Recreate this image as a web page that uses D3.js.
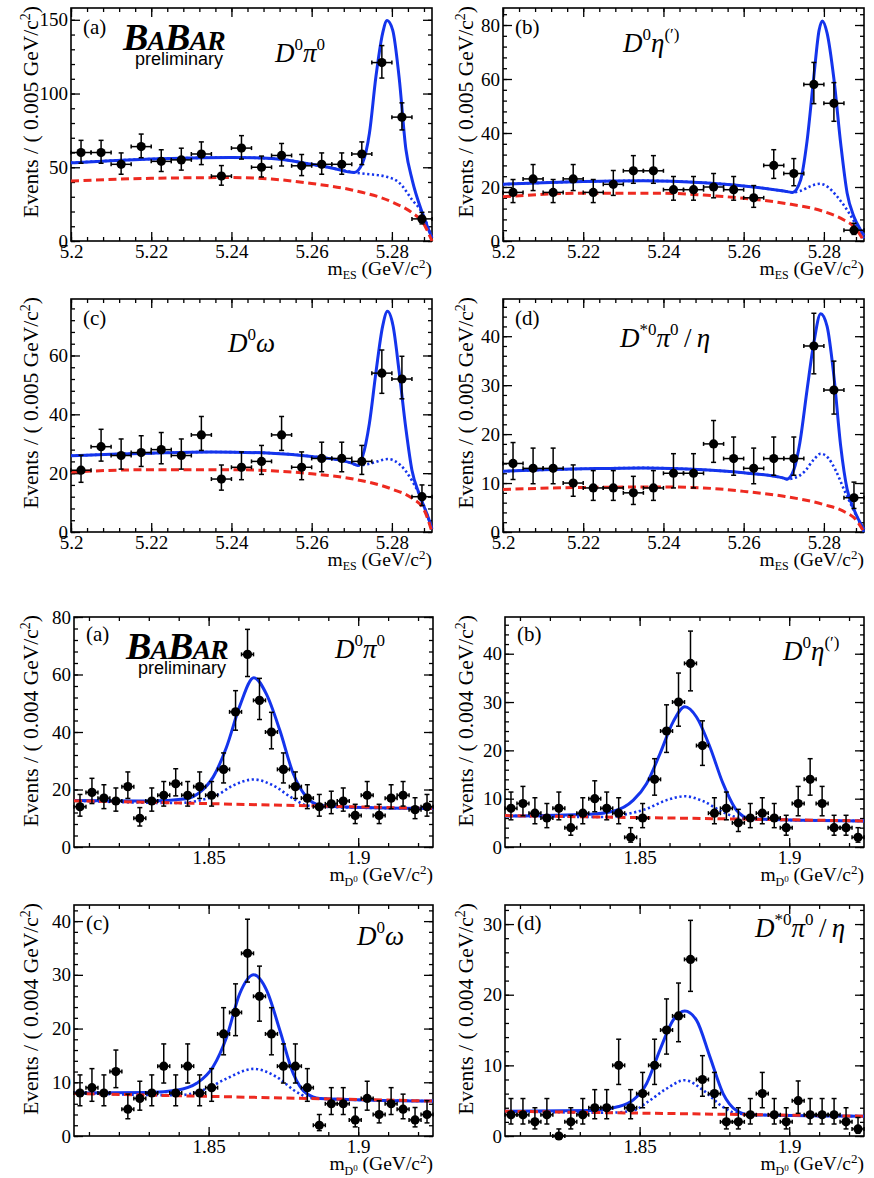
<!DOCTYPE html>
<html>
<head>
<meta charset="utf-8">
<script src="https://cdn.jsdelivr.net/npm/d3@7"></script>
<style>
	body { margin: 0; background: #fff; }
	svg text { font-family: "Liberation Serif", "Times New Roman", serif; fill: #000; }
</style>
</head>
<body>
<svg width="874" height="1178"></svg>
<script>
// bin centres
const mesBins = [5.2025, 5.2075, 5.2125, 5.2175, 5.2225, 5.2275, 5.2325, 5.2375, 5.2425, 5.2475, 5.2525, 5.2575, 5.2625, 5.2675, 5.2725, 5.2775, 5.2825, 5.2875];
const mdBins = [1.807, 1.811, 1.815, 1.819, 1.823, 1.827, 1.831, 1.835, 1.839, 1.843, 1.847, 1.851, 1.855, 1.859, 1.863, 1.867, 1.871, 1.875, 1.879, 1.883, 1.887, 1.891, 1.895, 1.899, 1.903, 1.907, 1.911, 1.915, 1.919, 1.923];

// events per bin
const mesA = [60, 60, 52, 64, 54, 55, 59, 44, 63, 50, 58, 51, 52, 52, 59, 121, 84, 15];
const mesB = [18, 23, 18, 23, 18, 21, 26, 26, 19, 19, 20, 19, 16, 28, 25, 58, 51, 4];
const mesC = [21, 29, 26, 27, 28, 26, 33, 18, 22, 24, 33, 22, 25, 25, 24, 54, 52, 12];
const mesD = [14, 13, 13, 10, 9, 9, 8, 9, 12, 12, 18, 15, 13, 15, 15, 38, 29, 7];
const mdA = [14, 19, 17, 16, 21, 10, 16, 18, 22, 18, 21, 18, 27, 47, 67, 51, 40, 27, 21, 17, 14, 15, 16, 11, 18, 11, 17, 18, 13, 14];
const mdB = [8, 9, 7, 6, 8, 4, 7, 10, 8, 7, 2, 6, 14, 24, 30, 38, 21, 7, 8, 5, 6, 7, 6, 4, 9, 14, 9, 4, 4, 2];
const mdC = [8, 9, 8, 12, 5, 7, 8, 13, 8, 13, 8, 9, 19, 23, 34, 26, 19, 13, 13, 9, 2, 6, 6, 3, 7, 4, 6, 5, 3, 4];
const mdD = [3, 3, 2, 3, 0, 2, 3, 4, 4, 10, 4, 6, 10, 15, 17, 25, 8, 6, 2, 2, 3, 6, 3, 2, 5, 3, 3, 3, 2, 1];

// fit curves: [x, events]
const mesTotalA = [[5.2, 53], [5.21, 54.5], [5.22, 55.6], [5.23, 56.3], [5.24, 56.6], [5.25, 56], [5.26, 52], [5.265, 49.5], [5.2706, 46.5], [5.2727, 53], [5.2744, 73], [5.276, 111], [5.2777, 141], [5.2788, 149.5], [5.2802, 143], [5.2818, 111], [5.2835, 62], [5.2851, 41], [5.2876, 19], [5.29, 2]];
const mesPeakA = [[5.2, 53], [5.21, 54.5], [5.22, 55.6], [5.23, 56.3], [5.24, 56.6], [5.25, 56], [5.26, 52], [5.265, 49.5], [5.2706, 46.5], [5.2735, 45.5], [5.2785, 43.7], [5.2818, 39.6], [5.2851, 27.8], [5.2876, 18.8], [5.29, 2]];
const mesCombA = [[5.2, 40.7], [5.22, 42.5], [5.24, 43], [5.25, 42], [5.26, 39], [5.27, 34.6], [5.28, 26.5], [5.2851, 19], [5.2876, 13], [5.29, 0]];

const mesTotalB = [[5.2, 21], [5.21, 21.6], [5.22, 22], [5.235, 22.3], [5.25, 21.6], [5.26, 20.4], [5.27, 18.5], [5.2722, 18], [5.2742, 22.6], [5.2758, 37], [5.2775, 61], [5.2788, 78], [5.2796, 81.5], [5.2808, 77], [5.2825, 60], [5.2842, 36], [5.2858, 17.7], [5.2875, 9], [5.2892, 4], [5.29, 2]];
const mesPeakB = [[5.2, 21], [5.21, 21.6], [5.22, 22], [5.235, 22.3], [5.25, 21.6], [5.26, 20.4], [5.27, 18.5], [5.2722, 18], [5.274, 18.5], [5.277, 20.5], [5.279, 21.2], [5.281, 20], [5.283, 17], [5.286, 11], [5.288, 6], [5.29, 1]];
const mesCombB = [[5.2, 16.4], [5.22, 17.7], [5.24, 17.7], [5.25, 17], [5.26, 15.8], [5.27, 14], [5.28, 10.9], [5.285, 7.8], [5.2875, 5.3], [5.29, 0]];

const mesTotalC = [[5.2, 25.9], [5.21, 26.4], [5.22, 26.8], [5.235, 27.2], [5.25, 26.8], [5.26, 25.7], [5.27, 23.4], [5.2715, 22.6], [5.2727, 25.7], [5.2744, 37], [5.276, 54], [5.2777, 70], [5.2789, 75], [5.2803, 70], [5.2818, 54.6], [5.2835, 35], [5.285, 21], [5.2868, 13], [5.2893, 4], [5.29, 1]];
const mesPeakC = [[5.2, 25.9], [5.21, 26.4], [5.22, 26.8], [5.235, 27.2], [5.25, 26.8], [5.26, 25.7], [5.27, 23.4], [5.2715, 22.6], [5.275, 23.4], [5.279, 24.8], [5.282, 22.9], [5.285, 17.5], [5.2868, 12.8], [5.289, 5], [5.29, 0.5]];
const mesCombC = [[5.2, 20.4], [5.22, 21.2], [5.24, 21.2], [5.25, 20.8], [5.26, 19.8], [5.27, 18.1], [5.28, 14.6], [5.285, 11.5], [5.288, 7.6], [5.29, 0]];

const mesTotalD = [[5.2, 12.4], [5.21, 12.7], [5.22, 12.9], [5.235, 13.1], [5.25, 12.7], [5.26, 12.1], [5.27, 11], [5.2708, 10.8], [5.2725, 12.7], [5.274, 18.2], [5.2758, 29], [5.2775, 38.7], [5.2792, 44.6], [5.2808, 42], [5.2825, 31.8], [5.2842, 17.5], [5.2858, 8.7], [5.2875, 4.6], [5.29, 0.5]];
const mesPeakD = [[5.2, 12.4], [5.21, 12.7], [5.22, 12.9], [5.235, 13.1], [5.25, 12.7], [5.26, 12.1], [5.27, 11], [5.2708, 10.8], [5.2725, 11], [5.275, 12.2], [5.2775, 14.8], [5.2792, 16], [5.281, 15.2], [5.283, 12.5], [5.285, 8.7], [5.287, 5.2], [5.29, 0]];
const mesCombD = [[5.2, 8.7], [5.22, 9.1], [5.24, 9.2], [5.25, 9], [5.26, 8.3], [5.27, 7.3], [5.28, 5.6], [5.285, 4.2], [5.288, 2.5], [5.29, 0]];

const mdTotalA = [[1.805, 16.2], [1.83, 16], [1.8426, 16.8], [1.8471, 19.1], [1.8515, 24.3], [1.856, 34.8], [1.8604, 49], [1.8651, 58.9], [1.8694, 53], [1.8738, 40.6], [1.8783, 25.5], [1.8827, 17.4], [1.8872, 14.5], [1.8916, 14.1], [1.925, 13.4]];
const mdPeakA = [[1.805, 16.1], [1.84, 15.3], [1.847, 16.2], [1.8527, 18], [1.8582, 21.4], [1.8651, 23.5], [1.8716, 21.4], [1.8783, 16.8], [1.8827, 14.5], [1.89, 13.9], [1.925, 13.4]];
const mdCombA = [[1.805, 16.1], [1.925, 13.4]];

const mdTotalB = [[1.805, 6.4], [1.8334, 6.8], [1.8412, 7.4], [1.8479, 9.7], [1.8523, 13.1], [1.8568, 19.3], [1.8612, 25.9], [1.8651, 29], [1.869, 26.9], [1.8735, 20.7], [1.8779, 13.1], [1.8824, 7.6], [1.8868, 5.9], [1.8946, 5.7], [1.925, 5.4]];
const mdPeakB = [[1.805, 6.5], [1.84, 6.2], [1.8456, 6.8], [1.8523, 7.9], [1.859, 9.7], [1.8651, 10.5], [1.8712, 9.5], [1.8779, 7.2], [1.8835, 6], [1.89, 5.7], [1.925, 5.4]];
const mdCombB = [[1.805, 6.5], [1.925, 5.4]];

const mdTotalC = [[1.805, 8], [1.8304, 8.1], [1.8393, 8.5], [1.846, 9.8], [1.8515, 12.9], [1.856, 18.4], [1.8604, 26.5], [1.8651, 30], [1.8694, 27.1], [1.8738, 19.7], [1.8783, 11.6], [1.8827, 7.9], [1.8872, 7], [1.925, 6.5]];
const mdPeakC = [[1.805, 8], [1.84, 7.6], [1.8493, 8.8], [1.856, 10.7], [1.8651, 12.5], [1.8727, 11], [1.8794, 8.2], [1.8838, 7.1], [1.89, 6.9], [1.925, 6.5]];
const mdCombC = [[1.805, 7.9], [1.925, 6.5]];

const mdTotalD = [[1.805, 3.5], [1.8334, 3.6], [1.8423, 4.1], [1.8479, 5.1], [1.8523, 7.4], [1.8568, 12.2], [1.8612, 16.4], [1.8651, 17.7], [1.869, 16.4], [1.8735, 11.2], [1.8779, 6], [1.8824, 3.6], [1.8868, 3], [1.925, 2.8]];
const mdPeakD = [[1.805, 3.5], [1.84, 3.3], [1.8479, 3.6], [1.8523, 4.7], [1.859, 6.7], [1.8651, 7.9], [1.8712, 6.5], [1.8779, 4.1], [1.8824, 3.2], [1.89, 3], [1.925, 2.8]];
const mdCombD = [[1.805, 3.5], [1.925, 2.8]];

// tick labels
const mesTicks = [5.2, 5.22, 5.24, 5.26, 5.28];
const mdTicks = [1.85, 1.9];

const svg = d3.select("svg");
const blue = "#1434ec";
const red = "#ee2a20";
const serif = "'Liberation Serif', 'Times New Roman', serif";

const mesDomain = [5.2, 5.29];
const mdDomain = [1.805, 1.925];

const panels = [
	{ tag: "(a)", bins: mesBins, counts: mesA, total: mesTotalA, peak: mesPeakA, comb: mesCombA, xDomain: mesDomain, xTicks: mesTicks, xMinor: 0.004, left: 71, right: 432, top: 8, bottom: 241, yMax: 158, yTicks: [0, 50, 100, 150], yMinor: 10, kind: "mes", chan: "pi0", logo: true, chanX: 275, chanY: 62, tagY: 34 },
	{ tag: "(b)", bins: mesBins, counts: mesB, total: mesTotalB, peak: mesPeakB, comb: mesCombB, xDomain: mesDomain, xTicks: mesTicks, xMinor: 0.004, left: 503, right: 864, top: 8, bottom: 241, yMax: 86.3, yTicks: [0, 20, 40, 60, 80], yMinor: 4, kind: "mes", chan: "eta", chanX: 623, chanY: 52, tagY: 34 },
	{ tag: "(c)", bins: mesBins, counts: mesC, total: mesTotalC, peak: mesPeakC, comb: mesCombC, xDomain: mesDomain, xTicks: mesTicks, xMinor: 0.004, left: 71, right: 432, top: 299, bottom: 532, yMax: 79.2, yTicks: [0, 20, 40, 60], yMinor: 4, kind: "mes", chan: "omega", chanX: 228, chanY: 352, tagY: 325 },
	{ tag: "(d)", bins: mesBins, counts: mesD, total: mesTotalD, peak: mesPeakD, comb: mesCombD, xDomain: mesDomain, xTicks: mesTicks, xMinor: 0.004, left: 503, right: 864, top: 299, bottom: 532, yMax: 47.6, yTicks: [0, 10, 20, 30, 40], yMinor: 2, kind: "mes", chan: "dstar", chanX: 620, chanY: 347, tagY: 325 },
	{ tag: "(a)", bins: mdBins, counts: mdA, total: mdTotalA, peak: mdPeakA, comb: mdCombA, xDomain: mdDomain, xTicks: mdTicks, xMinor: 0.01, left: 74, right: 433, top: 617, bottom: 847, yMax: 80, yTicks: [0, 20, 40, 60, 80], yMinor: 4, kind: "md", chan: "pi0", logo: true, chanX: 335, chanY: 658, tagY: 641 },
	{ tag: "(b)", bins: mdBins, counts: mdB, total: mdTotalB, peak: mdPeakB, comb: mdCombB, xDomain: mdDomain, xTicks: mdTicks, xMinor: 0.01, left: 505, right: 864, top: 617, bottom: 847, yMax: 47.6, yTicks: [0, 10, 20, 30, 40], yMinor: 2, kind: "md", chan: "eta", chanX: 783, chanY: 660, tagY: 641 },
	{ tag: "(c)", bins: mdBins, counts: mdC, total: mdTotalC, peak: mdPeakC, comb: mdCombC, xDomain: mdDomain, xTicks: mdTicks, xMinor: 0.01, left: 74, right: 433, top: 905, bottom: 1136, yMax: 43, yTicks: [0, 10, 20, 30, 40], yMinor: 2, kind: "md", chan: "omega", chanX: 357, chanY: 945, tagY: 930 },
	{ tag: "(d)", bins: mdBins, counts: mdD, total: mdTotalD, peak: mdPeakD, comb: mdCombD, xDomain: mdDomain, xTicks: mdTicks, xMinor: 0.01, left: 505, right: 864, top: 905, bottom: 1136, yMax: 32.7, yTicks: [0, 10, 20, 30], yMinor: 2, kind: "md", chan: "dstar", chanX: 755, chanY: 937, tagY: 930 },
];

panels.forEach(drawPanel);

function minorTicks(lo, hi, step) {
	const out = [];
	for (let i = Math.ceil(lo / step - 1e-6); i * step <= hi + 1e-9; i++) out.push(+(i * step).toFixed(6));
	return out;
}

// append a run of tspans: [text, size, dy, italic]
function rich(text, parts) {
	parts.forEach(([t, size, dy, italic]) => {
		text.append("tspan")
			.attr("font-size", size)
			.attr("dy", dy || 0)
			.attr("font-style", italic ? "italic" : null)
			.text(t);
	});
	return text;
}

function drawPanel(p) {
	const g = svg.append("g");
	const x = d3.scaleLinear().domain(p.xDomain).range([p.left, p.right]);
	const y = d3.scaleLinear().domain([0, p.yMax]).range([p.bottom, p.top]);
	const xMinor = minorTicks(p.xDomain[0], p.xDomain[1], p.xMinor);
	const yMinor = minorTicks(0, p.yMax, p.yMinor);
	const fmt = d => String(+d.toFixed(3));

	const axes = [
		[d3.axisBottom(x).tickValues(xMinor).tickSize(-4).tickFormat(""), 0, p.bottom],
		[d3.axisBottom(x).tickValues(p.xTicks).tickSize(-9).tickPadding(4).tickFormat(fmt), 0, p.bottom],
		[d3.axisTop(x).tickValues(xMinor).tickSize(-4).tickFormat(""), 0, p.top],
		[d3.axisTop(x).tickValues(p.xTicks).tickSize(-9).tickFormat(""), 0, p.top],
		[d3.axisLeft(y).tickValues(yMinor).tickSize(-4).tickFormat(""), p.left, 0],
		[d3.axisLeft(y).tickValues(p.yTicks).tickSize(-9).tickPadding(3).tickFormat(fmt), p.left, 0],
		[d3.axisRight(y).tickValues(yMinor).tickSize(-4).tickFormat(""), p.right, 0],
		[d3.axisRight(y).tickValues(p.yTicks).tickSize(-9).tickFormat(""), p.right, 0],
	];
	axes.forEach(([ax, tx, ty]) => {
		const a = g.append("g")
			.attr("transform", `translate(${tx},${ty})`)
			.call(ax.tickSizeOuter(0))
			.attr("font-size", 19)
			.attr("font-family", serif);
		a.select(".domain").remove();
		a.selectAll("line").attr("stroke-width", 1.3);
	});

	g.append("rect")
		.attr("x", p.left)
		.attr("y", p.top)
		.attr("width", p.right - p.left)
		.attr("height", p.bottom - p.top)
		.attr("fill", "none")
		.attr("stroke", "#000")
		.attr("stroke-width", 1.6);

	// fit curves: total, peaking bkg, then combinatoric on top
	const line = d3.line()
		.x(d => x(d[0]))
		.y(d => y(d[1]))
		.curve(d3.curveMonotoneX);
	g.append("path")
		.attr("d", line(p.total))
		.attr("fill", "none")
		.attr("stroke", blue)
		.attr("stroke-width", 3);
	g.append("path")
		.attr("d", line(p.peak))
		.attr("fill", "none")
		.attr("stroke", blue)
		.attr("stroke-width", 2.6)
		.attr("stroke-dasharray", "2.2,2.6");
	g.append("path")
		.attr("d", line(p.comb))
		.attr("fill", "none")
		.attr("stroke", red)
		.attr("stroke-width", 3)
		.attr("stroke-dasharray", "8,4.5");

	// data points with poisson-like errors
	const half = (p.bins[1] - p.bins[0]) / 2;
	const pts = g.append("g")
		.selectAll("g")
		.data(p.counts.map((n, i) => ({ x: p.bins[i], n })))
		.join("g")
		.attr("stroke", "#000")
		.attr("stroke-width", 1.5);
	const lo = d => Math.sqrt(d.n + 0.25) - 0.5;
	const hi = d => Math.sqrt(d.n + 0.25) + 0.5;
	pts.append("line")
		.attr("x1", d => x(d.x)).attr("x2", d => x(d.x))
		.attr("y1", d => y(d.n - lo(d))).attr("y2", d => y(d.n + hi(d)));
	pts.append("line")
		.attr("x1", d => x(d.x) - 2.5).attr("x2", d => x(d.x) + 2.5)
		.attr("y1", d => y(d.n + hi(d))).attr("y2", d => y(d.n + hi(d)));
	pts.filter(d => d.n > 0).append("line")
		.attr("x1", d => x(d.x) - 2.5).attr("x2", d => x(d.x) + 2.5)
		.attr("y1", d => y(d.n - lo(d))).attr("y2", d => y(d.n - lo(d)));
	pts.append("line")
		.attr("x1", d => x(d.x - half)).attr("x2", d => x(d.x + half))
		.attr("y1", d => y(d.n)).attr("y2", d => y(d.n));
	pts.append("line")
		.attr("x1", d => x(d.x - half)).attr("x2", d => x(d.x - half))
		.attr("y1", d => y(d.n) - 2).attr("y2", d => y(d.n) + 2);
	pts.append("line")
		.attr("x1", d => x(d.x + half)).attr("x2", d => x(d.x + half))
		.attr("y1", d => y(d.n) - 2).attr("y2", d => y(d.n) + 2);
	pts.append("circle")
		.attr("cx", d => x(d.x))
		.attr("cy", d => y(d.n))
		.attr("r", 4.6)
		.attr("fill", "#000")
		.attr("stroke", "none");

	// titles
	const col = p.left < 200 ? 38 : 473;
	const bin = p.kind === "mes" ? "0.005" : "0.004";
	rich(g.append("text")
		.attr("transform", `translate(${col},${p.top - 2}) rotate(-90)`)
		.attr("text-anchor", "end"),
		[[`Events / ( ${bin} GeV/c`, 21.5], ["2", 14, -8], [")", 21.5, 8]]);

	const xt = g.append("text")
		.attr("x", p.right)
		.attr("y", p.bottom + 34)
		.attr("text-anchor", "end");
	if (p.kind === "mes") {
		rich(xt, [["m", 19.5], ["ES", 12, 4], [" (GeV/c", 19.5, -4], ["2", 13, -7], [")", 19.5, 7]]);
	} else {
		rich(xt, [["m", 19.5], ["D", 12, 5], ["0", 9, -4], [" (GeV/c", 19.5, -1], ["2", 13, -7], [")", 19.5, 7]]);
	}

	g.append("text")
		.attr("x", p.left + 12)
		.attr("y", p.tagY)
		.attr("font-size", 21)
		.text(p.tag);

	const ct = g.append("text")
		.attr("x", p.chanX)
		.attr("y", p.chanY);
	if (p.chan === "pi0") rich(ct, [["D", 27, 0, true], ["0", 17, -12], ["π", 27, 12, true], ["0", 17, -12]]);
	if (p.chan === "eta") rich(ct, [["D", 27, 0, true], ["0", 17, -12], ["η", 27, 12, true], ["(′)", 17, -12]]);
	if (p.chan === "omega") rich(ct, [["D", 27, 0, true], ["0", 17, -12], ["ω", 27, 12, true]]);
	if (p.chan === "dstar") rich(ct, [["D", 27, 0, true], ["*0", 17, -12], ["π", 27, 12, true], ["0", 17, -12], ["\u2009/\u2009", 27, 12], ["η", 27, 0, true]]);

	if (p.logo) {
		const lx = p.left + 52;
		const ly = p.top + 42;
		rich(g.append("text")
			.attr("x", lx)
			.attr("y", ly)
			.attr("font-weight", "bold")
			.attr("font-style", "italic")
			.attr("letter-spacing", -1),
			[["B", 38], ["A", 28], ["B", 38], ["AR", 28]]);
		g.append("text")
			.attr("x", lx + 12)
			.attr("y", ly + 15)
			.attr("font-size", 18)
			.style("font-family", "'Liberation Sans', Arial, sans-serif")
			.text("preliminary");
	}
}
</script>
</body>
</html>
